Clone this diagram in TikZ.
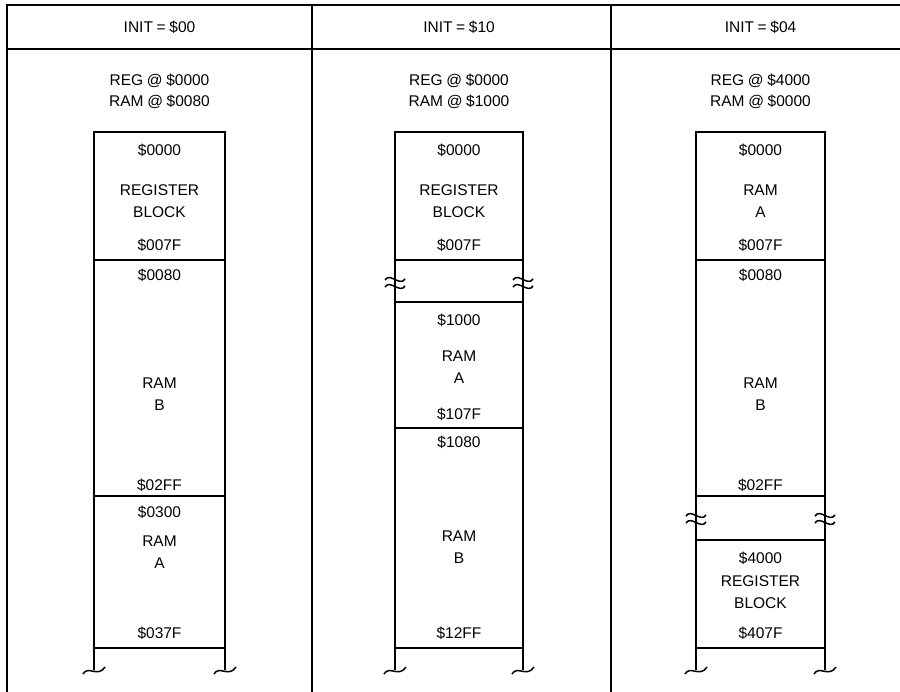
\documentclass[tikz,border=0pt]{standalone}
\usepackage{fontspec}
\setmainfont{Liberation Sans}[WordSpace=0.85]
\begin{document}
\begin{tikzpicture}[x=1pt,y=-1pt,
  frame/.style={line width=1.3pt},
  memline/.style={line width=1.7pt},
  brkline/.style={line width=1.5pt},
  lbl/.style={inner sep=0pt,anchor=base,font=\fontsize{15.5}{18}\selectfont}]
\useasboundingbox (0,0) rectangle (900,692);
% frame
\draw[frame] (7,692) -- (7,5) -- (900,5);
\draw[frame] (7,49) -- (900,49);
\draw[frame] (312,5) -- (312,692);
\draw[frame] (611,5) -- (611,692);
% headers
\node[lbl] (h1) at (159.5,33) {INIT = \$00};
\node[lbl] (h2) at (459,33) {INIT = \$10};
\node[lbl] (h3) at (760.5,33) {INIT = \$04};
\node[lbl] (r1a) at (159.5,86) {REG @ \$0000};
\node[lbl] (r1b) at (159.5,107) {RAM @ \$0080};
\node[lbl] (r2a) at (459,86) {REG @ \$0000};
\node[lbl] (r2b) at (459,107) {RAM @ \$1000};
\node[lbl] (r3a) at (760.5,86) {REG @ \$4000};
\node[lbl] (r3b) at (760.5,107) {RAM @ \$0000};
% column 1
\draw[memline] (94,670) -- (94,132) -- (225,132) -- (225,670);
\draw[memline] (94,260) -- (225,260);
\draw[memline] (94,496) -- (225,496);
\draw[memline] (94,648) -- (225,648);
% column 2
\draw[memline] (395,670) -- (395,132) -- (523,132) -- (523,670);
\draw[memline] (395,260) -- (523,260);
\draw[memline] (395,302) -- (523,302);
\draw[memline] (395,428) -- (523,428);
\draw[memline] (395,648) -- (523,648);
% column 3
\draw[memline] (696,670) -- (696,132) -- (825,132) -- (825,670);
\draw[memline] (696,260) -- (825,260);
\draw[memline] (696,496) -- (825,496);
\draw[memline] (696,540) -- (825,540);
\draw[memline] (696,648) -- (825,648);
% break marks
\foreach \x/\y in {395/282,523/282,696/518,825/518}{
  \draw[brkline] (\x-10,\y-2) .. controls (\x-5,\y-10) and (\x+5,\y+5) .. (\x+10,\y-3);
  \draw[brkline] (\x-10,\y+5) .. controls (\x-5,\y-3) and (\x+5,\y+12) .. (\x+10,\y+4);
}
% bottom squiggles
\foreach \x in {94,225,395,523,696,825}{
  \draw[brkline] (\x-11,674) .. controls (\x-6,665) and (\x+4,678) .. (\x+11,667);
}
% column 1 labels
\node[lbl] (c1a) at (159.5,156) {\$0000};
\node[lbl] (c1b) at (159.5,196) {REGISTER};
\node[lbl] (c1c) at (159.5,218) {BLOCK};
\node[lbl] (c1d) at (159.5,251) {\$007F};
\node[lbl] (c1e) at (159.5,281) {\$0080};
\node[lbl] (c1f) at (159.5,389) {RAM};
\node[lbl] (c1g) at (159.5,411) {B};
\node[lbl] (c1h) at (159.5,490) {\$02FF};
\node[lbl] (c1i) at (159.5,518) {\$0300};
\node[lbl] (c1j) at (159.5,546) {RAM};
\node[lbl] (c1k) at (159.5,568) {A};
\node[lbl] (c1l) at (159.5,638) {\$037F};
% column 2 labels
\node[lbl] (c2a) at (459,156) {\$0000};
\node[lbl] (c2b) at (459,196) {REGISTER};
\node[lbl] (c2c) at (459,218) {BLOCK};
\node[lbl] (c2d) at (459,251) {\$007F};
\node[lbl] (c2e) at (459,326) {\$1000};
\node[lbl] (c2f) at (459,362) {RAM};
\node[lbl] (c2g) at (459,384) {A};
\node[lbl] (c2h) at (459,420) {\$107F};
\node[lbl] (c2i) at (459,448) {\$1080};
\node[lbl] (c2j) at (459,541) {RAM};
\node[lbl] (c2k) at (459,563) {B};
\node[lbl] (c2l) at (459,638) {\$12FF};
% column 3 labels
\node[lbl] (c3a) at (760.5,156) {\$0000};
\node[lbl] (c3b) at (760.5,196) {RAM};
\node[lbl] (c3c) at (760.5,218) {A};
\node[lbl] (c3d) at (760.5,251) {\$007F};
\node[lbl] (c3e) at (760.5,281) {\$0080};
\node[lbl] (c3f) at (760.5,389) {RAM};
\node[lbl] (c3g) at (760.5,411) {B};
\node[lbl] (c3h) at (760.5,490) {\$02FF};
\node[lbl] (c3i) at (760.5,563) {\$4000};
\node[lbl] (c3j) at (760.5,586) {REGISTER};
\node[lbl] (c3k) at (760.5,608) {BLOCK};
\node[lbl] (c3l) at (760.5,638) {\$407F};
\end{tikzpicture}
\end{document}
